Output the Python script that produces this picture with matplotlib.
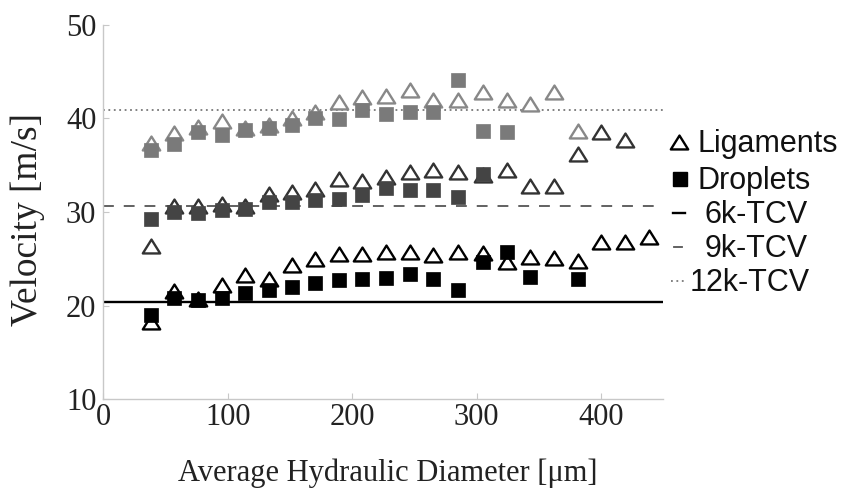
import matplotlib
matplotlib.use('Agg')
import matplotlib.pyplot as plt
from matplotlib.lines import Line2D
from matplotlib.path import Path

# marker x positions (average hydraulic diameter, um)
diam = [38, 57, 76, 95, 114, 133, 152, 170, 189, 208, 227, 246,
        265, 285, 305, 324, 343, 362, 381, 400, 419, 438]

# 6k-TCV
lig_6k = [18.2, 21.6, 20.7, 22.2, 23.3, 22.8, 24.3, 25.0, 25.5, 25.5, 25.75,
          25.75, 25.4, 25.75, 25.6, 24.7, 25.15, 25.05, 24.8, 26.8, 26.8, 27.3]
drop_6k_x = diam[:17] + [diam[18]]
drop_6k = [19.0, 20.8, 20.6, 20.8, 21.3, 21.7, 22.0, 22.4, 22.7, 22.8, 22.9,
           23.4, 22.8, 21.7, 24.6, 25.75, 23.1, 22.8]

# 9k-TCV
lig_9k = [26.4, 30.6, 30.6, 30.9, 30.6, 31.9, 32.1, 32.5, 33.5, 33.35, 33.7,
          34.3, 34.5, 34.3, 34.0, 34.5, 32.8, 32.8, 36.2, 38.6, 37.7]
drop_9k = [29.3, 30.0, 29.85, 30.2, 30.3, 31.1, 31.1, 31.3, 31.35, 31.8,
           32.6, 32.4, 32.3, 31.6, 34.1]

# 12k-TCV
lig_12k = [37.4, 38.4, 39.1, 39.7, 39.0, 39.3, 40.1, 40.7, 41.8, 42.3, 42.4,
           43.0, 42.0, 42.0, 42.8, 42.0, 41.6, 42.8, 38.7]
drop_12k = [36.6, 37.3, 38.6, 38.2, 38.8, 38.95, 39.3, 40.0, 39.9, 40.9,
            40.5, 40.7, 40.7, 44.1, 38.7, 38.6]

# theoretical TCV velocities
tcv_6k, tcv_9k, tcv_12k = 20.4, 30.6, 40.95

serif = ['Liberation Serif', 'DejaVu Serif']
sans = ['Liberation Sans', 'DejaVu Sans']

# flat-ish open triangle like the MATLAB '^'
tri = Path([(-1, -0.8), (1, -0.8), (0, 0.8), (-1, -0.8)], closed=True)

fig = plt.figure(figsize=(8.42, 4.94), dpi=100)
ax = fig.add_axes([0.1226, 0.1923, 0.6654, 0.7571])

ax.axhline(tcv_6k, color='black', lw=1.7, zorder=1)
ax.axhline(tcv_9k, color='#555555', lw=1.3, ls=(0, (6, 5.5)), zorder=1)
ax.axhline(tcv_12k, color='#777777', lw=1.3, ls=(0, (1, 2)), zorder=1)

groups = [
    (diam[:len(lig_12k)], lig_12k, diam[:len(drop_12k)], drop_12k, '#888888', '#7a7a7a'),
    (diam[:len(lig_9k)], lig_9k, diam[:len(drop_9k)], drop_9k, '#333333', '#444444'),
    (diam, lig_6k, drop_6k_x, drop_6k, 'black', 'black'),
]
for lx, ly, dx, dy, tc, sc in groups:
    ax.plot(lx, ly, ls='none', marker=tri, ms=12.5, mfc='white', mec=tc,
            mew=1.7, zorder=2)
for lx, ly, dx, dy, tc, sc in groups:
    ax.plot(dx, dy, ls='none', marker='s', ms=9.5, mfc=sc, mec=sc,
            mew=0.5, zorder=3)

ax.set_xlim(0, 450)
ax.set_ylim(10, 50)
ax.set_xticks([0, 100, 200, 300, 400])
ax.set_yticks([10, 20, 30, 40, 50])
for s in ['top', 'right']:
    ax.spines[s].set_visible(False)
for s in ['left', 'bottom']:
    ax.spines[s].set_color('#c8c8c8')
    ax.spines[s].set_linewidth(1.0)
ax.tick_params(axis='both', direction='in', color='#c8c8c8', length=4,
               labelcolor='#222222', labelsize=22)
ax.tick_params(axis='y', pad=5)
ax.tick_params(axis='x', pad=3)
for lab in ax.get_xticklabels() + ax.get_yticklabels():
    lab.set_family(serif)

ax.set_xlabel('Average Hydraulic Diameter [\u03bcm]', family=serif,
              fontsize=22, color='#222222')
ax.xaxis.set_label_coords(0.507, -0.16)
ax.set_ylabel('Velocity [m/s]', family=serif, fontsize=27, color='#222222')
ax.yaxis.set_label_coords(-0.104, 0.48)

# legend, drawn by hand to keep MATLAB-like layout
W, H = 842.0, 494.0
def fx(px):
    return px / W
def fy(py):
    return 1 - py / H

rows = [142, 179, 213, 247, 281]
fig.add_artist(Line2D([fx(679)], [fy(rows[0])], ls='none', marker=tri, ms=12.5,
                      mfc='white', mec='black', mew=1.7))
fig.add_artist(Line2D([fx(680)], [fy(rows[1])], ls='none', marker='s', ms=9.5,
                      mfc='black', mec='black'))
fig.add_artist(Line2D([fx(673), fx(685)], [fy(rows[2])] * 2, color='black', lw=1.7))
fig.add_artist(Line2D([fx(674), fx(682)], [fy(rows[3])] * 2, color='#555555', lw=1.3))
fig.add_artist(Line2D([fx(671), fx(685)], [fy(rows[4])] * 2, color='#777777',
                      lw=1.3, ls=(0, (1, 2))))

labels = ['Ligaments', 'Droplets', '6k-TCV', '9k-TCV', '12k-TCV']
starts = [697, 697, 705, 705, 690]
for lab, x0, r in zip(labels, starts, rows):
    fig.text(fx(x0), fy(r + 2), lab, family=sans, fontsize=22, color='#111111',
             ha='left', va='center')

fig.savefig('out.png', dpi=100)
